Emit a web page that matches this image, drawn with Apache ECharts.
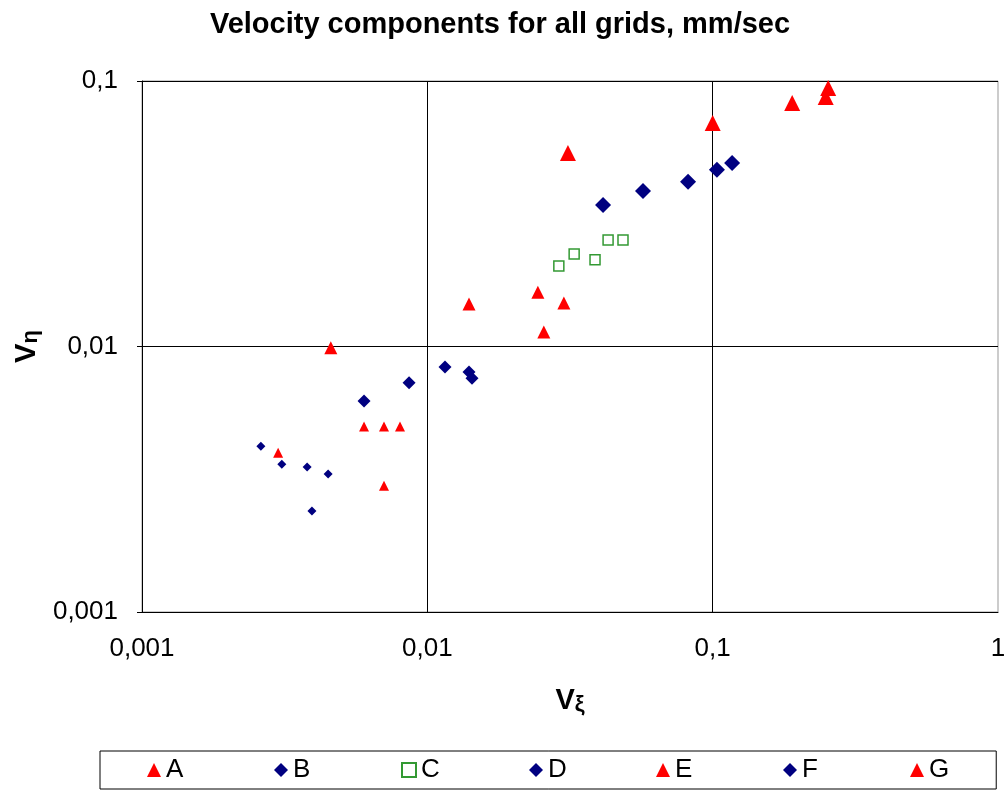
<!doctype html>
<html>
<head>
<meta charset="UTF-8">
<title>Velocity components</title>
<script src="https://cdn.jsdelivr.net/npm/echarts@6/dist/echarts.min.js"></script>
<style>
  body { margin: 0; background: #fff; }
  #main { width: 1007px; height: 792px; }
</style>
</head>
<body>
<div id="main"></div>
<script>
// series names, as in the legend
var names = ['A', 'B', 'C', 'D', 'E', 'F', 'G'];

// values (V_xi, V_eta)
var aX = [0.0311, 0.100, 0.190, 0.249, 0.254];
var aY = [0.0536, 0.0695, 0.0826, 0.0871, 0.0941];
var bX = [0.0413, 0.0570, 0.0820, 0.1035, 0.117];
var bY = [0.0341, 0.0385, 0.0417, 0.0463, 0.0491];
var cX = [0.0289, 0.0327, 0.0387, 0.0430, 0.0485];
var cY = [0.0201, 0.0223, 0.0212, 0.0252, 0.0252];
var dX = [0.0060, 0.00863, 0.01153, 0.0140, 0.01434];
var dY = [0.00624, 0.00730, 0.00838, 0.00802, 0.00760];
var eX = [0.00459, 0.0140, 0.0244, 0.0256, 0.0301];
var eY = [0.0099, 0.01445, 0.0160, 0.01135, 0.01459];
var fX = [0.00261, 0.00309, 0.00379, 0.00394, 0.00449];
var fY = [0.00421, 0.00360, 0.00352, 0.00240, 0.00331];
var gX = [0.0030, 0.0060, 0.00705, 0.00705, 0.00802];
var gY = [0.00398, 0.0050, 0.0050, 0.00299, 0.0050];

var xs = [aX, bX, cX, dX, eX, fX, gX];
var ys = [aY, bY, cY, dY, eY, fY, gY];

// marker look per series
var symbols = ['triangle', 'diamond', 'rect', 'diamond', 'triangle', 'diamond', 'triangle'];
var sizes = [16, 16, 10, 13, 13, 9, 10];
var colors = ['#ff0000', '#000080', '#339933', '#000080', '#ff0000', '#000080', '#ff0000'];

function pairs(x, y) {
  var out = [];
  for (var i = 0; i < x.length; i++) out.push([x[i], y[i]]);
  return out;
}

function fmt(v) {
  return String(Number(v.toPrecision(6))).replace('.', ',');
}

var series = [];
for (var i = 0; i < names.length; i++) {
  var hollow = names[i] == 'C';
  series.push({
    name: names[i],
    type: 'scatter',
    symbol: symbols[i],
    symbolSize: sizes[i],
    data: pairs(xs[i], ys[i]),
    itemStyle: hollow
      ? { color: '#fff', borderColor: colors[i], borderWidth: 1.5, opacity: 1 }
      : { color: colors[i], opacity: 1 }
  });
}

var font = 'Liberation Sans, Arial, sans-serif';
var subRich = {
  v: { fontSize: 29, fontWeight: 'bold', color: '#000', lineHeight: 30 },
  s: { fontSize: 22, fontWeight: 'bold', color: '#000', lineHeight: 22, padding: [18, 0, 0, 0], verticalAlign: 'bottom' }
};

var chart = echarts.init(document.getElementById('main'));
chart.setOption({
  animation: false,
  textStyle: { fontFamily: font },
  title: {
    text: 'Velocity components for all grids, mm/sec',
    left: 495,
    textAlign: 'center',
    top: 5,
    textStyle: { fontSize: 29, fontWeight: 'bold', color: '#000', fontFamily: font }
  },
  grid: {
    left: 142, right: 9, top: 81, bottom: 180,
    outerBoundsMode: 'none',
    containLabel: false,
    show: true, borderColor: '#999', borderWidth: 1
  },
  xAxis: {
    type: 'log', logBase: 10, min: 0.001, max: 1,
    name: '{v|V}{s|ξ}',
    nameLocation: 'middle',
    nameGap: 74,
    nameTextStyle: { rich: subRich },
    axisLine: { lineStyle: { color: '#000', width: 1 } },
    axisTick: { show: false },
    axisLabel: { fontSize: 26, color: '#000', margin: 24, formatter: fmt },
    splitLine: { show: true, showMinLine: false, showMaxLine: false, lineStyle: { color: '#000', width: 1 } },
    minorTick: { show: false }
  },
  yAxis: {
    type: 'log', logBase: 10, min: 0.001, max: 0.1,
    name: '{v|V}{s|η}',
    nameLocation: 'middle',
    nameRotate: 90,
    nameGap: 92,
    nameTextStyle: { rich: subRich },
    axisLine: { show: true, lineStyle: { color: '#000', width: 1 } },
    axisTick: { show: true, inside: false, length: 5, lineStyle: { color: '#000' } },
    axisLabel: { fontSize: 26, color: '#000', margin: 24, formatter: fmt },
    splitLine: { show: true, showMinLine: false, showMaxLine: false, lineStyle: { color: '#000', width: 1 } }
  },
  legend: {
    data: names,
    left: 100,
    top: 751,
    orient: 'horizontal',
    padding: [4, 47, 4, 47],
    itemGap: 88,
    itemWidth: 14,
    itemHeight: 14,
    borderColor: '#000',
    borderWidth: 1,
    textStyle: { fontSize: 26, color: '#000', width: 20, lineHeight: 30, fontFamily: font }
  },
  series: series
});
</script>
</body>
</html>
